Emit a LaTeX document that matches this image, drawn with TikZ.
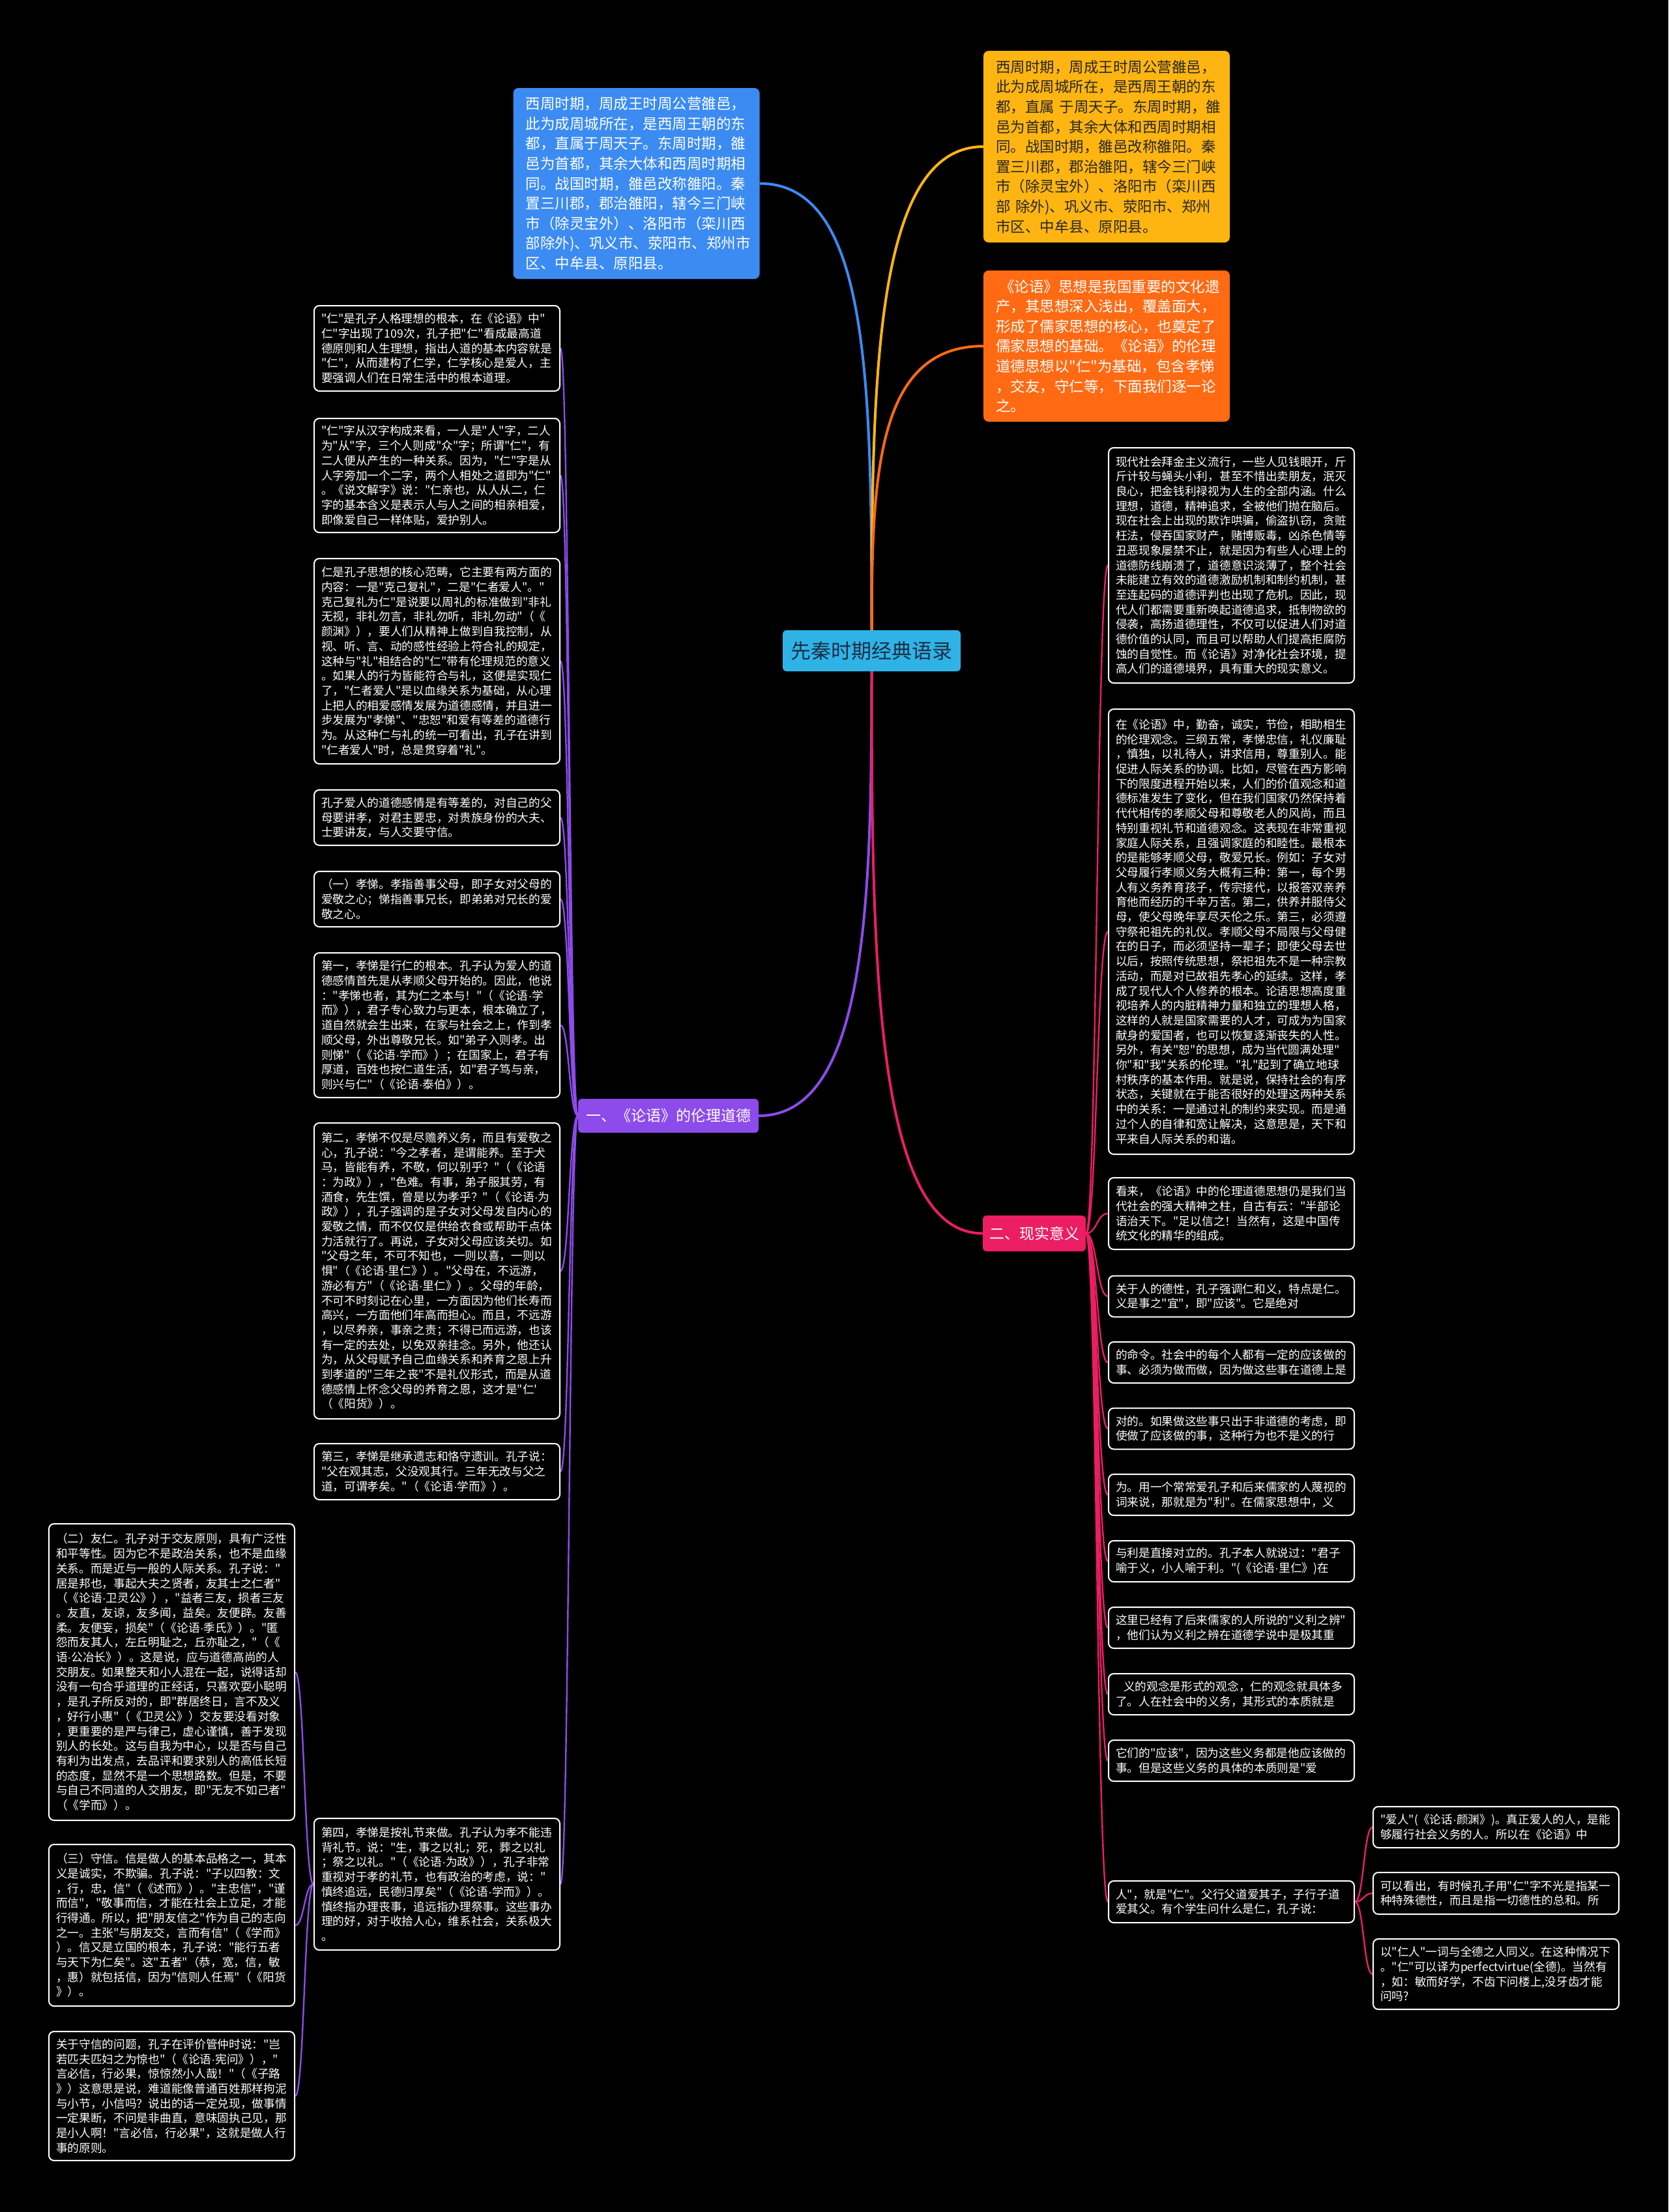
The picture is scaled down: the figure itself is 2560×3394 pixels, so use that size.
\documentclass[tikz,border=0pt]{standalone}
\usepackage{fontspec}
\newfontfamily\zh{Noto Sans CJK SC}
\newfontfamily\lat{Liberation Sans}
\newcommand\md{{\lat ·}}
\usetikzlibrary{calc}
\definecolor{cblue}{HTML}{3B8BF2}
\definecolor{cyel}{HTML}{FFB511}
\definecolor{corg}{HTML}{FF6A13}
\definecolor{cpur}{HTML}{8C4BEA}
\definecolor{cpink}{HTML}{EB1E63}
\definecolor{ccyan}{HTML}{2FB3E6}
\definecolor{cdark}{HTML}{1B2F45}
\pgfdeclarelayer{back}
\pgfsetlayers{back,main}
\newcommand\lnk[3]{\path ($(#2)!0.5!(#3)$) coordinate (mid); \draw[#1] (#2) .. controls (mid |- #2) and (mid |- #3) .. (#3);}
\begin{document}
\begin{tikzpicture}[x=1pt,y=-1pt,
  tbox/.style={draw=white, line width=2pt, fill=black, rounded corners=8pt, text=white,
    font=\zh\fontsize{17.7}{22.7}\selectfont, align=left, text width=355pt, inner sep=0pt, minimum width=377pt},
  cbox/.style={rounded corners=8pt, inner sep=0pt, align=left, text width=340pt, minimum width=378pt,
    font=\zh\fontsize{22.5}{30.6}\selectfont},
  lab/.style={rounded corners=6pt, inner sep=0pt, text=white, font=\zh\fontsize{23}{28}\selectfont},
  mainln/.style={line width=4pt},
  subln/.style={line width=2.4pt}]
\begin{pgfonlayer}{back}
\fill[black] (0,0) rectangle (2560,3394);
\end{pgfonlayer}
\useasboundingbox (0,0) rectangle (2560,3394);

% center
\node[fill=ccyan, text=cdark, rounded corners=6pt, minimum width=273pt, minimum height=63pt, inner sep=0pt,
  font=\zh\fontsize{31}{36}\selectfont] (c) at (1337.5,998.5) {先秦时期经典语录};

% top boxes
\node[cbox, fill=cblue, text=white, minimum height=293pt] (blue) at (976.5,281.5) {西周时期，周成王时周公营雒邑，\\
此为成周城所在，是西周王朝的东\\
都，直属于周天子。东周时期，雒\\
邑为首都，其余大体和西周时期相\\
同。战国时期，雒邑改称雒阳。秦\\
置三川郡，郡治雒阳，辖今三门峡\\
市（除灵宝外）、洛阳市（栾川西\\
部除外)、巩义市、荥阳市、郑州市\\
区、中牟县、原阳县。};

\node[cbox, fill=cyel, text=black!85, minimum height=294pt] (yel) at (1698,225) {西周时期，周成王时周公营雒邑，\\
此为成周城所在，是西周王朝的东\\
都，直属~于周天子。东周时期，雒\\
邑为首都，其余大体和西周时期相\\
同。战国时期，雒邑改称雒阳。秦\\
置三川郡，郡治雒阳，辖今三门峡\\
市（除灵宝外）、洛阳市（栾川西\\
部~除外)、巩义市、荥阳市、郑州\\
市区、中牟县、原阳县。};

\node[cbox, fill=corg, text=white, minimum height=232pt] (org) at (1698,531) {\hspace*{6pt}《论语》思想是我国重要的文化遗\\
产，其思想深入浅出，覆盖面大，\\
形成了儒家思想的核心，也奠定了\\
儒家思想的基础。《论语》的伦理\\
道德思想以"仁"为基础，包含孝悌\\
，交友，守仁等，下面我们逐一论\\
之。};

% branch labels
\node[lab, fill=cpur, minimum width=277pt, minimum height=52pt] (lb1) at (1025.5,1712) {一、《论语》的伦理道德};
\node[lab, fill=cpink, minimum width=158pt, minimum height=55pt] (lb2) at (1587,1892.5) {二、现实意义};

% left column
\node[tbox, minimum height=131pt] (l1) at (670.5,534.5) {"仁"是孔子人格理想的根本，在《论语》中"\\
仁"字出现了109次，孔子把"仁"看成最高道\\
德原则和人生理想，指出人道的基本内容就是\\
"仁"，从而建构了仁学，仁学核心是爱人，主\\
要强调人们在日常生活中的根本道理。};

\node[tbox, minimum height=175pt] (l2) at (670.5,729.5) {"仁"字从汉字构成来看，一人是"人"字，二人\\
为"从"字，三个人则成"众"字；所谓"仁"，有\\
二人便从产生的一种关系。因为，"仁"字是从\\
人字旁加一个二字，两个人相处之道即为"仁"\\
。《说文解字》说："仁亲也，从人从二，仁\\
字的基本含义是表示人与人之间的相亲相爱，\\
即像爱自己一样体贴，爱护别人。};

\node[tbox, minimum height=315pt] (l3) at (670.5,1014.5) {仁是孔子思想的核心范畴，它主要有两方面的\\
内容：一是"克己复礼"，二是"仁者爱人"。"\\
克己复礼为仁"是说要以周礼的标准做到"非礼\\
无视，非礼勿言，非礼勿听，非礼勿动"（《\\
颜渊》），要人们从精神上做到自我控制，从\\
视、听、言、动的感性经验上符合礼的规定，\\
这种与"礼"相结合的"仁"带有伦理规范的意义\\
。如果人的行为皆能符合与礼，这便是实现仁\\
了，"仁者爱人"是以血缘关系为基础，从心理\\
上把人的相爱感情发展为道德感情，并且进一\\
步发展为"孝悌"、"忠恕"和爱有等差的道德行\\
为。从这种仁与礼的统一可看出，孔子在讲到\\
"仁者爱人"时，总是贯穿着"礼"。};

\node[tbox, minimum height=85pt] (l4) at (670.5,1254.5) {孔子爱人的道德感情是有等差的，对自己的父\\
母要讲孝，对君主要忠，对贵族身份的大夫、\\
士要讲友，与人交要守信。};

\node[tbox, minimum height=85pt] (l5) at (670.5,1379.5) {（一）孝悌。孝指善事父母，即子女对父母的\\
爱敬之心；悌指善事兄长，即弟弟对兄长的爱\\
敬之心。};

\node[tbox, minimum height=222pt] (l6) at (670.5,1573) {第一，孝悌是行仁的根本。孔子认为爱人的道\\
德感情首先是从孝顺父母开始的。因此，他说\\
："孝悌也者，其为仁之本与！"（《论语\md{}学\\
而》），君子专心致力与更本，根本确立了，\\
道自然就会生出来，在家与社会之上，作到孝\\
顺父母，外出尊敬兄长。如"弟子入则孝。出\\
则悌"（《论语\md{}学而》）；在国家上，君子有\\
厚道，百姓也按仁道生活，如"君子笃与亲，\\
则兴与仁"（《论语\md{}泰伯》）。};

\node[tbox, minimum height=454pt] (l7) at (670.5,1950) {第二，孝悌不仅是尽赡养义务，而且有爱敬之\\
心，孔子说："今之孝者，是谓能养。至于犬\\
马，皆能有养，不敬，何以别乎？"（《论语\\
：为政》），"色难。有事，弟子服其劳，有\\
酒食，先生馔，曾是以为孝乎？"（《论语\md{}为\\
政》），孔子强调的是子女对父母发自内心的\\
爱敬之情，而不仅仅是供给衣食或帮助干点体\\
力活就行了。再说，子女对父母应该关切。如\\
"父母之年，不可不知也，一则以喜，一则以\\
惧"（《论语\md{}里仁》）。"父母在，不远游，\\
游必有方"（《论语\md{}里仁》）。父母的年龄，\\
不可不时刻记在心里，一方面因为他们长寿而\\
高兴，一方面他们年高而担心。而且，不远游\\
，以尽养亲，事亲之责；不得已而远游，也该\\
有一定的去处，以免双亲挂念。另外，他还认\\
为，从父母赋予自己血缘关系和养育之恩上升\\
到孝道的"三年之丧"不是礼仪形式，而是从道\\
德感情上怀念父母的养育之恩，这才是"仁'\\
（《阳货》）。};

\node[tbox, minimum height=86pt] (l8) at (670.5,2258) {第三，孝悌是继承遗志和恪守遗训。孔子说：\\
"父在观其志，父没观其行。三年无改与父之\\
道，可谓孝矣。"（《论语\md{}学而》）。};

\node[tbox, minimum height=202pt] (l9) at (670.5,2891) {第四，孝悌是按礼节来做。孔子认为孝不能违\\
背礼节。说："生，事之以礼；死，葬之以礼\\
；祭之以礼。"（《论语\md{}为政》），孔子非常\\
重视对于孝的礼节，也有政治的考虑，说："\\
慎终追远，民德归厚矣"（《论语\md{}学而》）。\\
慎终指办理丧事，追远指办理祭事。这些事办\\
理的好，对于收拾人心，维系社会，关系极大\\
。};

% far left
\node[tbox, minimum height=455pt] (f1) at (263.5,2565.5) {（二）友仁。孔子对于交友原则，具有广泛性\\
和平等性。因为它不是政治关系，也不是血缘\\
关系。而是近与一般的人际关系。孔子说："\\
居是邦也，事起大夫之贤者，友其士之仁者"\\
（《论语\md{}卫灵公》），"益者三友，损者三友\\
。友直，友谅，友多闻，益矣。友便辟。友善\\
柔。友便妄，损矣"（《论语\md{}季氏》）。"匿\\
怨而友其人，左丘明耻之，丘亦耻之，"（《\\
语\md{}公冶长》）。这是说，应与道德高尚的人\\
交朋友。如果整天和小人混在一起，说得话却\\
没有一句合乎道理的正经话，只喜欢耍小聪明\\
，是孔子所反对的，即"群居终日，言不及义\\
，好行小惠"（《卫灵公》）交友要没看对象\\
，更重要的是严与律己，虚心谨慎，善于发现\\
别人的长处。这与自我为中心，以是否与自己\\
有利为出发点，去品评和要求别人的高低长短\\
的态度，显然不是一个思想路数。但是，不要\\
与自己不同道的人交朋友，即"无友不如己者"\\
（《学而》）。};

\node[tbox, minimum height=248pt] (f2) at (263.5,2954) {（三）守信。信是做人的基本品格之一，其本\\
义是诚实，不欺骗。孔子说："子以四教：文\\
，行，忠，信"（《述而》）。"主忠信"，"谨\\
而信"，"敬事而信，才能在社会上立足，才能\\
行得通。所以，把"朋友信之"作为自己的志向\\
之一。主张"与朋友交，言而有信"（《学而》\\
）。信又是立国的根本，孔子说："能行五者\\
与天下为仁矣"。这"五者"（恭，宽，信，敏\\
，惠）就包括信，因为"信则人任焉"（《阳货\\
》）。};

\node[tbox, minimum height=198pt] (f3) at (263.5,3216) {关于守信的问题，孔子在评价管仲时说："岂\\
若匹夫匹妇之为惊也"（《论语\md{}宪问》），"\\
言必信，行必果，惊惊然小人哉！"（《子路\\
》）这意思是说，难道能像普通百姓那样拘泥\\
与小节，小信吗？说出的话一定兑现，做事情\\
一定果断，不问是非曲直，意味固执己见，那\\
是小人啊！"言必信，行必果"，这就是做人行\\
事的原则。};

% right column
\node[tbox, minimum height=361pt] (r1) at (1889.5,867.5) {现代社会拜金主义流行，一些人见钱眼开，斤\\
斤计较与蝇头小利，甚至不惜出卖朋友，泯灭\\
良心，把金钱利禄视为人生的全部内涵。什么\\
理想，道德，精神追求，全被他们抛在脑后。\\
现在社会上出现的欺诈哄骗，偷盗扒窃，贪赃\\
枉法，侵吞国家财产，赌博贩毒，凶杀色情等\\
丑恶现象屡禁不止，就是因为有些人心理上的\\
道德防线崩溃了，道德意识淡薄了，整个社会\\
未能建立有效的道德激励机制和制约机制，甚\\
至连起码的道德评判也出现了危机。因此，现\\
代人们都需要重新唤起道德追求，抵制物欲的\\
侵袭，高扬道德理性，不仅可以促进人们对道\\
德价值的认同，而且可以帮助人们提高拒腐防\\
蚀的自觉性。而《论语》对净化社会环境，提\\
高人们的道德境界，具有重大的现实意义。};

\node[tbox, minimum height=683pt] (r2) at (1889.5,1429.5) {在《论语》中，勤奋，诚实，节俭，相助相生\\
的伦理观念。三纲五常，孝悌忠信，礼仪廉耻\\
，慎独，以礼待人，讲求信用，尊重别人。能\\
促进人际关系的协调。比如，尽管在西方影响\\
下的限度进程开始以来，人们的价值观念和道\\
德标准发生了变化，但在我们国家仍然保持着\\
代代相传的孝顺父母和尊敬老人的风尚，而且\\
特别重视礼节和道德观念。这表现在非常重视\\
家庭人际关系，且强调家庭的和睦性。最根本\\
的是能够孝顺父母，敬爱兄长。例如：子女对\\
父母履行孝顺义务大概有三种：第一，每个男\\
人有义务养育孩子，传宗接代，以报答双亲养\\
育他而经历的千辛万苦。第二，供养并服侍父\\
母，使父母晚年享尽天伦之乐。第三，必须遵\\
守祭祀祖先的礼仪。孝顺父母不局限与父母健\\
在的日子，而必须坚持一辈子；即使父母去世\\
以后，按照传统思想，祭祀祖先不是一种宗教\\
活动，而是对已故祖先孝心的延续。这样，孝\\
成了现代人个人修养的根本。论语思想高度重\\
视培养人的内脏精神力量和独立的理想人格，\\
这样的人就是国家需要的人才，可成为为国家\\
献身的爱国者，也可以恢复逐渐丧失的人性。\\
另外，有关"恕"的思想，成为当代圆满处理"\\
你"和"我"关系的伦理。"礼"起到了确立地球\\
村秩序的基本作用。就是说，保持社会的有序\\
状态，关键就在于能否很好的处理这两种关系\\
中的关系：一是通过礼的制约来实现。而是通\\
过个人的自律和宽让解决，这意思是，天下和\\
平来自人际关系的和谐。};

\node[tbox, minimum height=110pt] (r3) at (1889.5,1862) {看来，《论语》中的伦理道德思想仍是我们当\\
代社会的强大精神之柱，自古有云："半部论\\
语治天下。"足以信之！当然有，这是中国传\\
统文化的精华的组成。};

\node[tbox, minimum height=63pt] (r4) at (1889.5,1989) {关于人的德性，孔子强调仁和义，特点是仁。\\
义是事之"宜"，即"应该"。它是绝对};
\node[tbox, minimum height=63pt] (r5) at (1889.5,2090.5) {的命令。社会中的每个人都有一定的应该做的\\
事、必须为做而做，因为做这些事在道德上是};
\node[tbox, minimum height=63pt] (r6) at (1889.5,2192) {对的。如果做这些事只出于非道德的考虑，即\\
使做了应该做的事，这种行为也不是义的行};
\node[tbox, minimum height=63pt] (r7) at (1889.5,2293.5) {为。用一个常常爱孔子和后来儒家的人蔑视的\\
词来说，那就是为"利"。在儒家思想中，义};
\node[tbox, minimum height=63pt] (r8) at (1889.5,2395.5) {与利是直接对立的。孔子本人就说过："君子\\
喻于义，小人喻于利。"(《论语\md{}里仁》)在};
\node[tbox, minimum height=63pt] (r9) at (1889.5,2497.5) {这里已经有了后来儒家的人所说的"义利之辨"\\
，他们认为义利之辨在道德学说中是极其重};
\node[tbox, minimum height=63pt] (r10) at (1889.5,2599.5) {\hspace*{12pt}义的观念是形式的观念，仁的观念就具体多\\
了。人在社会中的义务，其形式的本质就是};
\node[tbox, minimum height=63pt] (r11) at (1889.5,2701.5) {它们的"应该"，因为这些义务都是他应该做的\\
事。但是这些义务的具体的本质则是"爱};
\node[tbox, minimum height=64pt] (r12) at (1889.5,2918) {人"，就是"仁"。父行父道爱其子，子行子道\\
爱其父。有个学生问什么是仁，孔子说：};

% bottom right
\node[tbox, minimum height=63pt] (b1) at (2295.5,2803.5) {"爱人"(《论话\md{}颜渊》)。真正爱人的人，是能\\
够履行社会义务的人。所以在《论语》中};
\node[tbox, minimum height=64pt] (b2) at (2295.5,2905) {可以看出，有时候孔子用"仁"字不光是指某一\\
种特殊德性，而且是指一切德性的总和。所};
\node[tbox, minimum height=108pt] (b3) at (2295.5,3029) {以"仁人"一词与全德之人同义。在这种情况下\\
。"仁"可以译为perfectvirtue(全德)。当然有\\
，如：敏而好学，不齿下问楼上,没牙齿才能\\
问吗?};

% connectors
\begin{pgfonlayer}{back}
\draw[mainln, cblue] (c.center) .. controls ($(c.center)+(0,-400)$) and (c.center |- blue.east) .. (blue.east);
\draw[mainln, cyel] (c.center) .. controls ($(c.center)+(0,-400)$) and (c.center |- yel.west) .. (yel.west);
\draw[mainln, corg] (c.center) .. controls ($(c.center)+(0,-250)$) and (c.center |- org.west) .. (org.west);
\draw[mainln, cpur] (c.center) .. controls ($(c.center)+(0,350)$) and (c.center |- lb1.east) .. (lb1.east);
\draw[mainln, cpink] (c.center) .. controls ($(c.center)+(0,450)$) and (c.center |- lb2.west) .. (lb2.west);
\foreach \b in {l1,l2,l3,l4,l5,l6,l7,l8,l9} {\lnk{subln,cpur}{lb1.west}{\b.east}}
\foreach \b in {f1,f2,f3} {\lnk{subln,cpur}{l9.west}{\b.east}}
\foreach \b in {r1,r2,r3,r4,r5,r6,r7,r8,r9,r10,r11,r12} {\lnk{subln,cpink}{lb2.east}{\b.west}}
\foreach \b in {b1,b2,b3} {\lnk{subln,cpink}{r12.east}{\b.west}}
\end{pgfonlayer}
\end{tikzpicture}
\end{document}
